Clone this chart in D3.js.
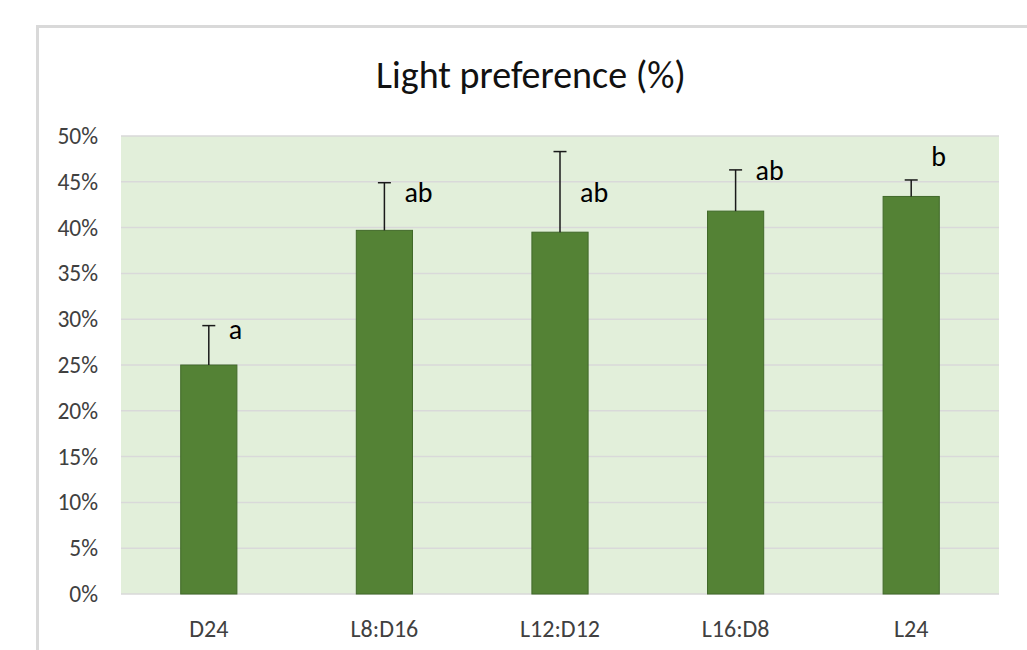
<!DOCTYPE html>
<html>
<head>
<meta charset="utf-8">
<script src="https://cdn.jsdelivr.net/npm/d3@7"></script>
<style>
  body { margin: 0; background: #fff; }
  svg { display: block; font-family: Carlito, Calibri, Lato, sans-serif; }
</style>
</head>
<body>
<div id="chart"></div>
<script>
// chart values
const categories = ["D24", "L8:D16", "L12:D12", "L16:D8", "L24"];
const means = [25.0, 39.7, 39.5, 41.8, 43.4];
const errors = [4.3, 5.2, 8.8, 4.5, 1.8];
const letters = ["a", "ab", "ab", "ab", "b"];
// where each letter sits on the value axis (the labels were placed by hand)
const letterAt = [28.7, 43.7, 43.6, 46.1, 47.6];
const yTicks = [0, 5, 10, 15, 20, 25, 30, 35, 40, 45, 50];

const width = 1027, height = 650;
let margin = {top: 136, right: 28, bottom: 56, left: 121};
let plotW = width - margin.left - margin.right;
let plotH = height - margin.top - margin.bottom;

let svg = d3.select("#chart").append("svg")
    .attr("width", width)
    .attr("height", height);

// chart frame, cut off at the right and bottom like the screenshot
svg.append("rect")
    .attr("x", 37.5).attr("y", 26.5)
    .attr("width", 1100).attr("height", 800)
    .attr("fill", "#fff")
    .attr("stroke", "#d9d9d9")
    .attr("stroke-width", 3);

svg.append("text")
    .attr("x", 531)
    .attr("y", 88)
    .attr("text-anchor", "middle")
    .attr("font-size", 38)
    .attr("fill", "#111")
    .text("Light preference (%)");

let g = svg.append("g")
    .attr("transform", "translate(" + margin.left + "," + margin.top + ")");

let x = d3.scaleBand().domain(categories).range([0, plotW])
    .paddingInner(0.68).paddingOuter(0.34);
let y = d3.scaleLinear().domain([0, 50]).range([plotH, 0]);

g.append("rect")
    .attr("width", plotW).attr("height", plotH)
    .attr("fill", "#e2efda");

// gridlines
g.append("g")
    .selectAll("line")
    .data(yTicks)
    .enter().append("line")
    .attr("x1", 0).attr("x2", plotW)
    .attr("y1", d => y(d)).attr("y2", d => y(d))
    .attr("stroke", "#d9d9d9")
    .attr("stroke-width", 1.5);

// y axis labels
let yAxis = g.append("g")
    .call(d3.axisLeft(y).tickValues(yTicks).tickSize(0).tickPadding(23).tickFormat(d => d + "%"))
    .attr("font-family", null)
    .attr("font-size", 23.5);
yAxis.select(".domain").remove();
yAxis.selectAll("text").attr("fill", "#404040");

// x axis labels
let xAxis = g.append("g")
    .attr("transform", "translate(0," + plotH + ")")
    .call(d3.axisBottom(x).tickSize(0).tickPadding(26))
    .attr("font-family", null)
    .attr("font-size", 24);
xAxis.select(".domain").remove();
xAxis.selectAll("text").attr("fill", "#404040");

let data = categories.map((c, i) => ({cat: c, mean: means[i], err: errors[i], letter: letters[i], at: letterAt[i]}));

// bars
g.append("g")
    .selectAll("rect")
    .data(data)
    .enter().append("rect")
    .attr("x", d => x(d.cat))
    .attr("y", d => y(d.mean))
    .attr("width", x.bandwidth())
    .attr("height", d => plotH - y(d.mean))
    .attr("fill", "#548235")
    .attr("stroke", "#41692a")
    .attr("stroke-width", 1);

// error bars (plus side only)
let err = g.append("g")
    .selectAll("g")
    .data(data)
    .enter().append("g")
    .attr("transform", d => "translate(" + (x(d.cat) + x.bandwidth() / 2) + ",0)");
err.append("line")
    .attr("x1", 0).attr("x2", 0)
    .attr("y1", d => y(d.mean)).attr("y2", d => y(d.mean + d.err))
    .attr("stroke", "#1a1a1a").attr("stroke-width", 1.5);
err.append("line")
    .attr("x1", -6.5).attr("x2", 6.5)
    .attr("y1", d => y(d.mean + d.err)).attr("y2", d => y(d.mean + d.err))
    .attr("stroke", "#1a1a1a").attr("stroke-width", 1.5);

// significance letters
g.append("g")
    .selectAll("text")
    .data(data)
    .enter().append("text")
    .attr("x", d => x(d.cat) + x.bandwidth() / 2 + 20)
    .attr("y", d => y(d.at))
    .attr("dy", "0.28em")
    .attr("font-size", 28)
    .attr("fill", "#000")
    .text(d => d.letter);
</script>
</body>
</html>
